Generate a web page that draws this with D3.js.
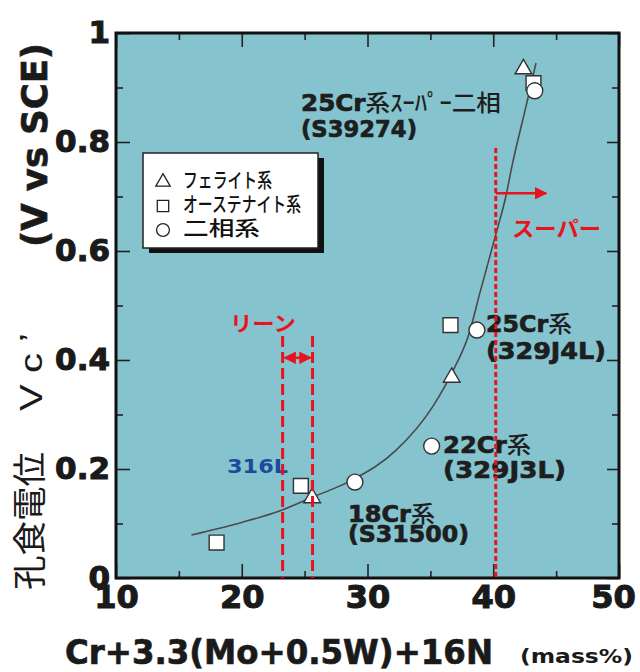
<!DOCTYPE html>
<html>
<head>
<meta charset="utf-8">
<script src="https://cdn.jsdelivr.net/npm/d3@7"></script>
<style>
  body { margin: 0; background: #fff; }
  svg { display: block; }
  .tick text { font-family: "DejaVu Sans", sans-serif; font-weight: bold; fill: #1a1a1a; stroke: #1a1a1a; stroke-width: 1.1px; }
  .heavy { stroke: #1e1e1e; stroke-width: 0.7px; }
</style>
</head>
<body>
<div id="chart"></div>
<script>
// axis ticks
const xTicks = [10, 20, 30, 40, 50];
const xTickLabels = ["10", "20", "30", "40", "50"];
const xMinor = [15, 25, 35, 45];
const yTicks = [0, 0.2, 0.4, 0.6, 0.8, 1];
const yTickLabels = ["0", "0.2", "0.4", "0.6", "0.8", "1"];
const yMinor = [0.1, 0.3, 0.5, 0.7, 0.9];

// measured points: [index, potential]
const ferrite = [[25.6, 0.147], [36.7, 0.368], [42.4, 0.934]];
const austenite = [[18.0, 0.065], [24.7, 0.169], [36.6, 0.464], [43.2, 0.908]];
const duplex = [[29.0, 0.176], [35.1, 0.242], [38.7, 0.455], [43.3, 0.894]];

// trend line
const trend = [[16, 0.079], [20, 0.102], [23, 0.123], [25.6, 0.148], [28.8, 0.18],
  [32.3, 0.235], [35.2, 0.315], [36.7, 0.376], [38.1, 0.45], [38.9, 0.52],
  [40.2, 0.63], [41.0, 0.70], [41.5, 0.757], [42.6, 0.865], [43.4, 0.945]];

// grade zones
const leanLines = [23.25, 25.63];
const leanTop = 0.444;
const leanArrowY = 0.404;
const superLine = 40.2;
const superTop = 0.789;
const superArrow = [40.2, 44.2];
const superArrowY = 0.706;

const legendItems = ["フェライト系", "オーステナイト系", "二相系"];

const W = 640, H = 672;
const margin = { top: 33, right: 21, bottom: 94, left: 116 };
const width = W - margin.left - margin.right;
const height = H - margin.top - margin.bottom;

const x = d3.scaleLinear().domain([10, 50]).range([0, width]);
const y = d3.scaleLinear().domain([0, 1]).range([height, 0]);

const svg = d3.select("#chart").append("svg")
  .attr("width", W).attr("height", H);

const defs = svg.append("defs");
defs.append("marker").attr("id", "ah").attr("viewBox", "0 0 10 10")
  .attr("refX", 9).attr("refY", 5).attr("markerWidth", 5).attr("markerHeight", 5)
  .attr("orient", "auto-start-reverse")
  .append("path").attr("d", "M0,0L10,5L0,10z").attr("fill", "#e8141c");

const g = svg.append("g").attr("transform", `translate(${margin.left},${margin.top})`);

// plot background
g.append("rect").attr("width", width).attr("height", height).attr("fill", "#85c3cf");

// axes, ticks pointing inwards on all four sides
function addAxis(axis, tf) {
  const a = g.append("g").attr("transform", tf).call(axis);
  a.select(".domain").remove();
  a.selectAll(".tick line").attr("stroke", "#222").attr("stroke-width", 1.6);
  return a;
}
const fmtX = (d, i) => xTickLabels[i];
const fmtY = (d, i) => yTickLabels[i];

addAxis(d3.axisBottom(x).tickValues(xTicks).tickSize(-14).tickPadding(7).tickFormat(fmtX), `translate(0,${height})`)
  .selectAll("text").style("font-size", "32px");
addAxis(d3.axisBottom(x).tickValues(xMinor).tickSize(-7).tickFormat(""), `translate(0,${height})`);
addAxis(d3.axisTop(x).tickValues(xTicks).tickSize(-14).tickFormat(""), "translate(0,0)");
addAxis(d3.axisTop(x).tickValues(xMinor).tickSize(-7).tickFormat(""), "translate(0,0)");
addAxis(d3.axisLeft(y).tickValues(yTicks).tickSize(-14).tickPadding(6).tickFormat(fmtY), "translate(0,0)")
  .selectAll("text").style("font-size", "31px");
addAxis(d3.axisLeft(y).tickValues(yMinor).tickSize(-7).tickFormat(""), "translate(0,0)");
addAxis(d3.axisRight(y).tickValues(yTicks).tickSize(-12).tickFormat(""), `translate(${width},0)`);
addAxis(d3.axisRight(y).tickValues(yMinor).tickSize(-7).tickFormat(""), `translate(${width},0)`);

// the "50" sits at the right edge of the window, nudge it in a little
g.selectAll(".tick text").filter(function () { return this.textContent === "50"; })
  .attr("x", -6);

// frame
g.append("rect").attr("width", width).attr("height", height)
  .attr("fill", "none").attr("stroke", "#111").attr("stroke-width", 3);

// trend line
g.append("path").datum(trend)
  .attr("fill", "none").attr("stroke", "#4a4a4a").attr("stroke-width", 1.6)
  .attr("d", d3.line().x(d => x(d[0])).y(d => y(d[1])).curve(d3.curveMonotoneX));

// points
function drawPoints(data, type, size) {
  g.selectAll(null).data(data).enter().append("path")
    .attr("transform", d => `translate(${x(d[0])},${y(d[1])})`)
    .attr("d", d3.symbol().type(type).size(size))
    .attr("fill", "#fff").attr("stroke", "#333").attr("stroke-width", 1.4);
}
drawPoints(ferrite, d3.symbolTriangle, 120);
drawPoints(austenite, d3.symbolSquare, 220);
drawPoints(duplex, d3.symbolCircle, 200);

// annotations
const labelFont = "'DejaVu Sans', sans-serif";
const cjkFont = "'Noto Sans CJK JP', sans-serif";
function fit(sel, len) {
  return sel.attr("textLength", len).attr("lengthAdjust", "spacingAndGlyphs");
}
function annot(px, py, parts, size, len) {
  const t = g.append("text").attr("x", px - margin.left).attr("y", py - margin.top)
    .attr("fill", "#1e1e1e").style("font-size", size + "px");
  parts.forEach(p => {
    const s = t.append("tspan").text(p[0])
      .style("font-family", p[1] ? cjkFont : labelFont)
      .style("font-weight", p[1] ? 500 : "bold");
    if (!p[1]) s.attr("class", "heavy");
  });
  return fit(t, len);
}
annot(301, 111, [["25Cr"], ["系", 1], ["ｽｰﾊﾟｰ二相", 1]], 23, 200);
annot(301, 137, [["(S39274)"]], 23, 116);
annot(486, 332, [["25Cr"], ["系", 1]], 23, 86);
annot(486, 359, [["(329J4L)"]], 23, 120);
annot(443, 453, [["22Cr"], ["系", 1]], 23, 88);
annot(443, 478, [["(329J3L)"]], 23, 123);
annot(348, 522, [["18Cr"], ["系", 1]], 23, 87);
annot(348, 542, [["(S31500)"]], 23, 121);

fit(g.append("text").attr("x", 227 - margin.left).attr("y", 473 - margin.top)
  .attr("fill", "#1d4a9a").style("font-family", labelFont).style("font-weight", "bold")
  .style("font-size", "20px").text("316L"), 61);

// lean / super markers
const red = "#e8141c";
g.selectAll(null).data(leanLines).enter().append("line")
  .attr("x1", d => x(d)).attr("x2", d => x(d)).attr("y1", y(leanTop)).attr("y2", y(0))
  .attr("stroke", red).attr("stroke-width", 3).attr("stroke-dasharray", "11,5");
g.append("line")
  .attr("x1", x(leanLines[0]) + 2).attr("x2", x(leanLines[1]) - 2)
  .attr("y1", y(leanArrowY)).attr("y2", y(leanArrowY))
  .attr("stroke", red).attr("stroke-width", 2.5)
  .attr("marker-start", "url(#ah)").attr("marker-end", "url(#ah)");
fit(g.append("text").attr("x", 230 - margin.left).attr("y", 331 - margin.top)
  .attr("fill", red).style("font-family", cjkFont).style("font-weight", "bold")
  .style("font-size", "21px").text("リーン"), 66);

g.append("line")
  .attr("x1", x(superLine)).attr("x2", x(superLine)).attr("y1", y(superTop)).attr("y2", y(0))
  .attr("stroke", red).attr("stroke-width", 3).attr("stroke-dasharray", "5,3");
g.append("line")
  .attr("x1", x(superArrow[0])).attr("x2", x(superArrow[1]))
  .attr("y1", y(superArrowY)).attr("y2", y(superArrowY))
  .attr("stroke", red).attr("stroke-width", 2.5).attr("marker-end", "url(#ah)");
fit(g.append("text").attr("x", 512 - margin.left).attr("y", 236 - margin.top)
  .attr("fill", red).style("font-family", cjkFont).style("font-weight", "bold")
  .style("font-size", "21px").text("スーパー"), 89);

// legend
const lg = svg.append("g").attr("transform", "translate(143,153)");
lg.append("rect").attr("x", 6).attr("y", 5).attr("width", 175).attr("height", 95).attr("fill", "#111");
lg.append("rect").attr("width", 175).attr("height", 95)
  .attr("fill", "#fff").attr("stroke", "#222").attr("stroke-width", 1.5);
const legendSymbols = [d3.symbolTriangle, d3.symbolSquare, d3.symbolCircle];
const legendSizes = [90, 130, 130];
const legendLen = [89, 118, 77];
legendItems.forEach((name, i) => {
  const cy = 27 + i * 24;
  lg.append("path").attr("transform", `translate(20,${cy + 2})`)
    .attr("d", d3.symbol().type(legendSymbols[i]).size(legendSizes[i]))
    .attr("fill", "#fff").attr("stroke", "#222").attr("stroke-width", 1.3);
  fit(lg.append("text").attr("x", 40).attr("y", cy + 8)
    .style("font-family", cjkFont).style("font-size", "20px").style("font-weight", 500)
    .attr("fill", "#111").text(name), legendLen[i]);
});

// axis titles
fit(svg.append("text").attr("class", "heavy").attr("x", 65).attr("y", 664)
  .style("font-family", labelFont).style("font-weight", "bold").style("font-size", "33px")
  .attr("fill", "#1a1a1a").text("Cr+3.3(Mo+0.5W)+16N"), 428);
fit(svg.append("text").attr("x", 520).attr("y", 663)
  .style("font-family", labelFont).style("font-weight", "bold").style("font-size", "19px")
  .attr("fill", "#1a1a1a").text("(mass%)"), 113);

function yTitle(cy, bx, txt, font, weight, size, len) {
  return fit(svg.append("text").attr("transform", `translate(${bx},${cy}) rotate(-90)`)
    .attr("text-anchor", "middle")
    .style("font-family", font).style("font-weight", weight).style("font-size", size + "px")
    .attr("fill", "#1a1a1a").text(txt), len);
}
yTitle(145, 47, "(V vs SCE)", labelFont, "bold", 35, 204).attr("class", "heavy");
yTitle(372, 42, "V c ’", "'Liberation Sans', sans-serif", "normal", 32, 78);
yTitle(521, 42, "孔食電位", cjkFont, "normal", 34, 138);
</script>
</body>
</html>
